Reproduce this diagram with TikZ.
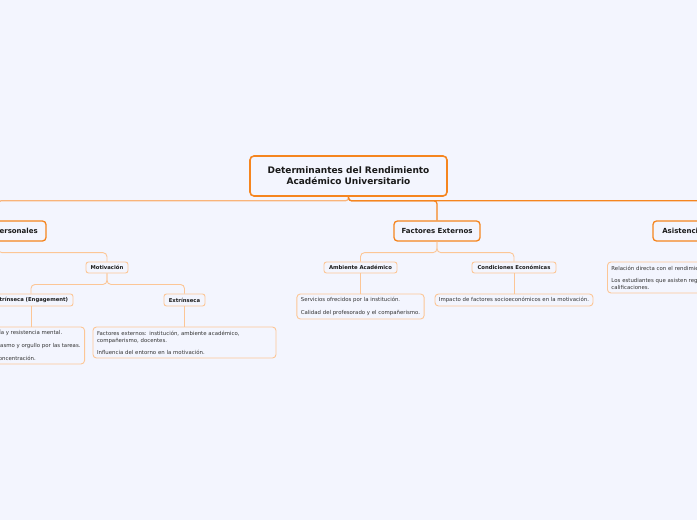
\documentclass[tikz,border=0pt]{standalone}
\usepackage{fontspec}
\setmainfont{DejaVu Sans}
\definecolor{bgc}{HTML}{F3F5FE}
\definecolor{orA}{HTML}{F5851F}
\definecolor{orL}{HTML}{F9B47A}
\definecolor{orP}{HTML}{FCC696}
\definecolor{txt}{HTML}{1A1A1A}
\definecolor{txtB}{HTML}{333333}
\tikzset{
  rootbox/.style={draw=orA, line width=1.6pt, rounded corners=4pt, fill=bgc, inner sep=0pt,
    font=\fontsize{9}{11}\selectfont\bfseries, align=center, text=txt},
  lonebox/.style={draw=orA, line width=1.3pt, rounded corners=3.5pt, fill=bgc, inner sep=0pt,
    font=\fontsize{7}{8}\selectfont\bfseries, text=txt},
  ltwobox/.style={draw=orP, line width=0.9pt, rounded corners=2.5pt, fill=bgc, inner sep=0pt,
    font=\fontsize{5.3}{6}\selectfont\bfseries, text=txt},
  lthreebox/.style={draw=orP, line width=0.9pt, rounded corners=3.5pt, fill=bgc, inner ysep=0pt, inner xsep=4pt,
    font=\fontsize{5.4}{7}\selectfont, align=left, text=txtB},
  conA/.style={draw=orA, line width=1.2pt, rounded corners=3pt},
  conP/.style={draw=orL, line width=1.2pt, rounded corners=3pt},
  conB/.style={draw=orP, line width=0.9pt, rounded corners=4pt},
}
\begin{document}
\begin{tikzpicture}[x=1pt,y=-1pt]
\useasboundingbox (0,0) rectangle (697,520);
\fill[bgc] (0,0) rectangle (697,520);
\clip (0,0) rectangle (697,520);
% nodes
\node[rootbox, minimum width=197pt, minimum height=40pt] (root) at (348.5,176) {Determinantes del Rendimiento\\Académico Universitario};
\node[lonebox, minimum width=96pt, minimum height=20pt] (pers) at (-2,231) {Factores Personales};
\node[lonebox, minimum width=86pt, minimum height=20pt] (ext) at (437,231) {Factores Externos};
\node[lonebox, minimum width=94pt, minimum height=20pt] (asis) at (700,231) {Asistencia a Clases};
\node[ltwobox, minimum width=42pt, minimum height=11pt] (mot) at (107,267.5) {Motivación};
\node[ltwobox, minimum width=84pt, minimum height=12pt] (intr) at (31,300) {Intrínseca (Engagement)};
\node[ltwobox, minimum width=41pt, minimum height=12pt] (extr) at (184.5,300) {Extrínseca};
\node[ltwobox, minimum width=73pt, minimum height=11pt] (amb) at (360.5,267.5) {Ambiente Académico};
\node[ltwobox, minimum width=84pt, minimum height=11pt] (cond) at (514,267.5) {Condiciones Económicas};
\node[lthreebox, minimum height=37pt, anchor=east] (intrc) at (85,345.5) {Energía y resistencia mental.\\[6pt]Entusiasmo y orgullo por las tareas.\\[6pt]Alta concentración.};
\node[lthreebox, text width=175pt, minimum height=31pt] (extrc) at (184.5,342.5) {Factores externos: institución, ambiente académico,\\compañerismo, docentes.\\[5pt]Influencia del entorno en la motivación.};
\node[lthreebox, minimum height=25pt] (ambc) at (360.5,306.5) {Servicios ofrecidos por la institución.\\[6pt]Calidad del profesorado y el compañerismo.};
\node[lthreebox, minimum height=12pt] (condc) at (514,300) {Impacto de factores socioeconómicos en la motivación.};
\node[lthreebox, text width=178pt, minimum height=31pt, anchor=west] (asisc) at (607,277.5) {Relación directa con el rendimiento académico.\\[5pt]Los estudiantes que asisten regularmente obtienen mejores\\calificaciones.};
\coordinate (persother) at (-110,262);
% connectors level 1
\draw[conP] (root.south) -- ++(0,4) -| (pers.north);
\draw[conA] (root.south) -- ++(0,4) -| (ext.north);
\draw[conA] (root.south) -- ++(0,4) -| (asis.north);
% level 2
\draw[conB] (pers.south) -- ++(0,11) -| (mot.north);
\draw[conB] (pers.south) -- ++(0,11) -| (persother);
\draw[conB] (mot.south) -- ++(0,11) -| (intr.north);
\draw[conB] (mot.south) -- ++(0,11) -| (extr.north);
\draw[conB] (intr.south) -- (intr.south |- intrc.north);
\draw[conB] (extr.south) -- (extrc.north);
\draw[conB] (ext.south) -- ++(0,11) -| (amb.north);
\draw[conB] (ext.south) -- ++(0,11) -| (cond.north);
\draw[conB] (amb.south) -- (ambc.north);
\draw[conB] (cond.south) -- (condc.north);
\draw[conB] (asis.south) -- (asis.south |- asisc.north);
\end{tikzpicture}
\end{document}
